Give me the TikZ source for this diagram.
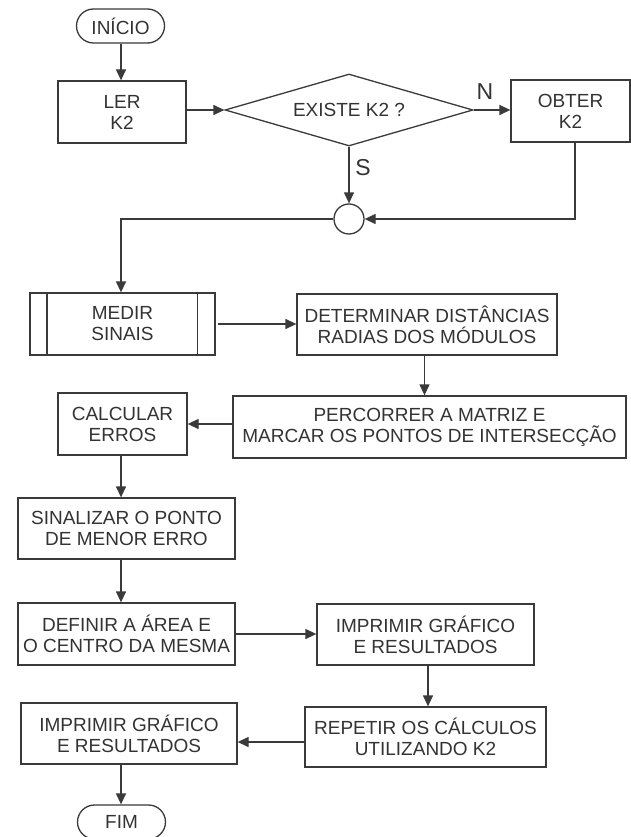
\documentclass[tikz,border=0pt]{standalone}
\usepackage{fontspec}
\setmainfont{Liberation Sans}
\usetikzlibrary{arrows.meta,shapes.geometric,shapes.misc}
\definecolor{ink}{HTML}{3A3A3A}
\definecolor{txt}{HTML}{333333}
\begin{document}
\begin{tikzpicture}[x=1pt,y=-1pt,
  every node/.style={font=\fontsize{19}{21}\selectfont, text=txt},
  box/.style={draw=ink, line width=1.3pt, rectangle, inner sep=0pt, align=center},
  term/.style={draw=ink, line width=1.3pt, rounded rectangle, inner sep=0pt,
               minimum width=88pt, minimum height=34pt},
  decision/.style={draw=ink, line width=1.3pt, diamond, aspect=3.44, inner sep=0pt,
                   minimum width=248pt, minimum height=72pt},
  joint/.style={draw=ink, line width=1.3pt, circle, inner sep=0pt, minimum size=30pt},
  flow/.style={draw=ink, line width=1.3pt, -{Triangle[length=11pt,width=10pt]}},
  tag/.style={font=\fontsize{23}{23}\selectfont}
]
% page area
\path[fill=white] (0,0) rectangle (631,837);
\useasboundingbox (0,0) rectangle (631,837);

% left column axis
\coordinate (col) at (121,0);

% nodes
\node[term] (inicio) at (120.5,26) {INÍCIO};
\node[box, minimum width=128pt, minimum height=62pt] (ler) at (122,112) {LER\\K2};
\node[decision] (existe) at (349,110) {EXISTE K2 ?};
\node[box, minimum width=119pt, minimum height=62pt] (obter) at (570.5,111) {OBTER\\K2};
\node[joint] (junta) at (349,219) {};
\node[box, minimum width=185pt, minimum height=62pt] (medir) at (122.5,324) {MEDIR\\SINAIS};
\draw[ink, line width=1.3pt] ([xshift=17.5pt]medir.north west) -- ([xshift=17.5pt]medir.south west);
\draw[ink, line width=1.3pt] ([xshift=-18.5pt]medir.north east) -- ([xshift=-18.5pt]medir.south east);
\node[box, minimum width=260pt, minimum height=61pt] (determinar) at (427,324.5)
  {DETERMINAR DISTÂNCIAS\\RADIAS DOS MÓDULOS};
\node[box, minimum width=393pt, minimum height=62pt] (percorrer) at (429.5,427)
  {PERCORRER A MATRIZ E\\MARCAR OS PONTOS DE INTERSECÇÃO};
\node[box, minimum width=129pt, minimum height=62pt] (calcular) at (122.5,424) {CALCULAR\\ERROS};
\node[box, minimum width=217pt, minimum height=61pt] (sinalizar) at (126.5,528.5)
  {SINALIZAR O PONTO\\DE MENOR ERRO};
\node[box, minimum width=217pt, minimum height=62pt] (definir) at (126.5,634)
  {DEFINIR A ÁREA E\\O CENTRO DA MESMA};
\node[box, minimum width=217pt, minimum height=61pt] (imprimirA) at (425.5,634.5)
  {IMPRIMIR GRÁFICO\\E RESULTADOS};
\node[box, minimum width=241pt, minimum height=60pt] (repetir) at (425.5,737)
  {REPETIR OS CÁLCULOS\\UTILIZANDO K2};
\node[box, minimum width=216pt, minimum height=61pt] (imprimirB) at (129,733.5)
  {IMPRIMIR GRÁFICO\\E RESULTADOS};
\node[term] (fim) at (121.5,822) {FIM};

% branch labels
\node[tag] (lblN) at (485,92) {N};
\node[tag] (lblS) at (363,168) {S};

% connectors
\draw[flow] (inicio.south -| col) -- (ler.north -| col);
\draw[flow] (existe.west -| ler.east) -- (existe.west);
\draw[flow] (existe.east) -- (existe.east -| obter.west);
\draw[flow] (existe.south) -- (junta.north);
\draw[flow] ([xshift=4.5pt]obter.south) |- (junta.east);
\draw[flow] (junta.west) -| (medir.north -| col);
\draw[flow] ([xshift=2pt]medir.east) -- (medir.east -| determinar.west);
\draw[flow] ([xshift=-2.5pt]determinar.south) -- ([xshift=-2.5pt]determinar.south |- percorrer.north);
\draw[flow] (calcular.east -| percorrer.west) -- (calcular.east);
\draw[flow] (calcular.south -| col) -- (sinalizar.north -| col);
\draw[flow] (sinalizar.south -| col) -- (definir.north -| col);
\draw[flow] (definir.east) -- (definir.east -| imprimirA.west);
\draw[flow] ([xshift=2.5pt]imprimirA.south) -- ([xshift=2.5pt]imprimirA.south |- repetir.north);
\draw[flow] ([yshift=-5pt]repetir.west) -- ([yshift=-5pt]repetir.west -| imprimirB.east);
\draw[flow] (imprimirB.south -| col) -- (fim.north -| col);
\end{tikzpicture}
\end{document}
